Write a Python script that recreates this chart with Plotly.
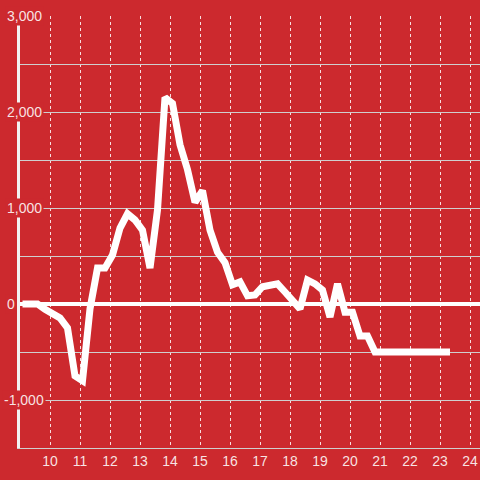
import plotly.graph_objects as go

times = [
    "09:05", "09:20", "09:35", "09:50", "10:05", "10:20", "10:35", "10:50",
    "11:05", "11:20", "11:35", "11:50", "12:05", "12:20", "12:35", "12:50",
    "13:05", "13:20", "13:35", "13:50", "14:05", "14:20", "14:35", "14:50",
    "15:05", "15:20", "15:35", "15:50", "16:05", "16:20", "16:35", "16:50",
    "17:05", "17:20", "17:35", "17:50", "18:05", "18:20", "18:35", "18:50",
    "19:05", "19:20", "19:35", "19:50", "20:05", "20:20", "20:35", "20:50",
    "21:05", "21:20", "21:35", "21:50", "22:05", "22:20", "22:35", "22:50",
    "23:05", "23:20",
]
values = [
    0, 0, 0, -55, -95, -146, -250, -750,
    -800, -50, 375, 375, 510, 790, 940, 875,
    770, 375, 980, 2150, 2090, 1660, 1400, 1060,
    1180, 770, 540, 430, 200, 230, 85, 95,
    180, 190, 210, 125, 40, -50, 250, 210,
    146, -135, 210, -85, -85, -333, -333, -500,
    -500, -500, -500, -500, -500, -500, -500, -500,
    -500, -500,
]
x_ticks = list(range(10, 25))
y_labels = [3000, 2000, 1000, 0, -1000]

BG = "#cc292e"
TXT = "rgba(255,255,255,0.88)"
FONT = "Liberation Sans, Arial, sans-serif"

hours = [int(t[:2]) + int(t[3:]) / 60 for t in times]

fig = go.Figure()
fig.add_trace(go.Scatter(
    x=hours, y=values, mode="lines",
    line=dict(color="white", width=7),
    hoverinfo="x+y",
))

# y labels sit over the axis line with a red box behind them
for v in y_labels:
    fig.add_annotation(
        x=0, y=v, xref="paper", yref="y",
        text=f"{v:,}",
        showarrow=False, xanchor="left",
        xshift=-15 if v >= 0 else -18,
        font=dict(size=14, color=TXT, family=FONT),
        bgcolor=BG, borderpad=1,
    )

fig.update_layout(
    width=480, height=480,
    margin=dict(l=20, r=0, t=16, b=32, autoexpand=False),
    paper_bgcolor=BG, plot_bgcolor=BG,
    showlegend=False,
    font=dict(family=FONT, size=14, color=TXT),
)
fig.update_xaxes(
    range=[9, 9 + 460 / 30],
    tickvals=x_ticks,
    showgrid=True, gridcolor="rgba(255,255,255,0.85)", gridwidth=1, griddash="dot",
    zeroline=False,
    showline=True, linecolor="#cfcfcf", linewidth=1,
    ticks="", tickfont=dict(size=14, color=TXT),
    automargin=False,
)
fig.update_yaxes(
    range=[-1500, 3000],
    dtick=500,
    showticklabels=False,
    showgrid=True, gridcolor="#cfcfcf", gridwidth=1,
    zeroline=True, zerolinecolor="white", zerolinewidth=4,
    showline=True, linecolor="#f2f2f2", linewidth=3,
    ticks="",
    automargin=False,
)

fig.write_html(
    "out.html",
    config={"displayModeBar": False},
    post_script="document.body.style.margin='0';",
)
